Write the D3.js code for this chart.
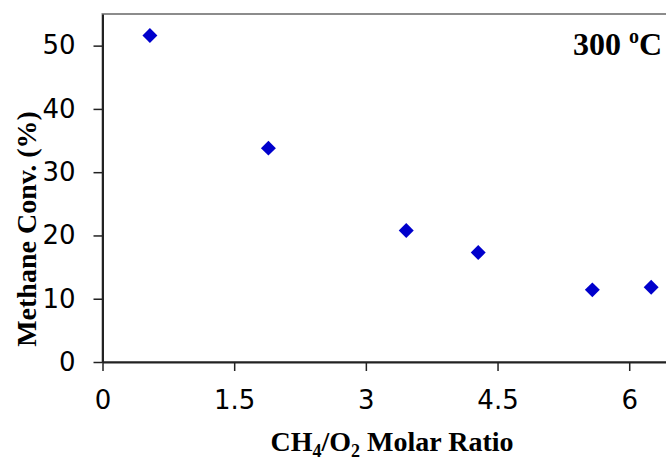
<!DOCTYPE html>
<html>
<head>
<meta charset="utf-8">
<script src="https://cdn.jsdelivr.net/npm/d3@7"></script>
<style>
  body { margin: 0; background: #fff; }
  .tick text { font-family: "DejaVu Sans", Verdana, sans-serif; font-size: 26px; fill: #000; }
  .lbl { font-family: "Liberation Serif", "Times New Roman", serif; font-weight: bold; fill: #000; }
</style>
</head>
<body>
<div id="chart"></div>
<script>
// CH4/O2 molar ratio vs methane conversion at 300 oC
const ratios = [0.54, 1.89, 3.46, 4.28, 5.58, 6.25];
const conversions = [51.6, 33.8, 20.8, 17.3, 11.4, 11.8];
const xTicks = [0, 1.5, 3, 4.5, 6];
const yTicks = [0, 10, 20, 30, 40, 50];

const width = 666, height = 460;
// plot area (runs past the right edge, as in the original crop)
const margin = { left: 102.5, top: 14, right: -51, bottom: 98 };

const svg = d3.select('#chart').append('svg')
    .attr('width', width)
    .attr('height', height);

const x = d3.scaleLinear()
    .domain([0, 7])
    .range([margin.left, width - margin.right]);

const y = d3.scaleLinear()
    .domain([0, 55])
    .range([height - margin.bottom, margin.top]);

// plot area border (grey)
svg.append('rect')
    .attr('x', x(0))
    .attr('y', y(55))
    .attr('width', x(7) - x(0))
    .attr('height', y(0) - y(55))
    .attr('fill', 'none')
    .attr('stroke', '#8c8c8c')
    .attr('stroke-width', 2);

// axes
const yAxis = d3.axisLeft(y)
    .tickValues(yTicks)
    .tickSizeInner(9)
    .tickSizeOuter(0)
    .tickPadding(18);

const xAxis = d3.axisBottom(x)
    .tickValues(xTicks)
    .tickFormat(d3.format('~g'))
    .tickSizeInner(9)
    .tickSizeOuter(0)
    .tickPadding(20);

const gy = svg.append('g')
    .attr('transform', `translate(${x(0)},0)`)
    .call(yAxis);
const gx = svg.append('g')
    .attr('transform', `translate(0,${y(0)})`)
    .call(xAxis);

[gx, gy].forEach(g => {
    g.select('.domain').attr('stroke', '#222').attr('stroke-width', 2);
    g.selectAll('.tick line').attr('stroke', '#222').attr('stroke-width', 1.5);
});

// data points: blue diamonds
svg.append('g')
    .selectAll('path')
    .data(ratios.map((r, i) => ({ r: r, c: conversions[i] })))
    .join('path')
    .attr('d', d3.symbol().type(d3.symbolSquare).size(112))
    .attr('transform', d => `translate(${x(d.r)},${y(d.c)}) rotate(45)`)
    .attr('fill', '#0000cc');

// axis titles
const xl = svg.append('text')
    .attr('class', 'lbl')
    .attr('x', 392)
    .attr('y', 451)
    .attr('text-anchor', 'middle')
    .style('font-size', '28px');
xl.append('tspan').text('CH');
xl.append('tspan').text('4').attr('dy', 6).style('font-size', '18px');
xl.append('tspan').text('/O').attr('dy', -6);
xl.append('tspan').text('2').attr('dy', 6).style('font-size', '18px');
xl.append('tspan').text(' Molar Ratio').attr('dy', -6);

svg.append('text')
    .attr('class', 'lbl')
    .attr('transform', 'translate(36,229) rotate(-90)')
    .attr('text-anchor', 'middle')
    .style('font-size', '28px')
    .text('Methane Conv. (%)');

// temperature annotation
const t = svg.append('text')
    .attr('class', 'lbl')
    .attr('x', 662)
    .attr('y', 55)
    .attr('text-anchor', 'end')
    .style('font-size', '32px');
t.append('tspan').text('300 ');
t.append('tspan').text('o').attr('dy', -12).style('font-size', '20px');
t.append('tspan').text('C').attr('dy', 12);
</script>
</body>
</html>
